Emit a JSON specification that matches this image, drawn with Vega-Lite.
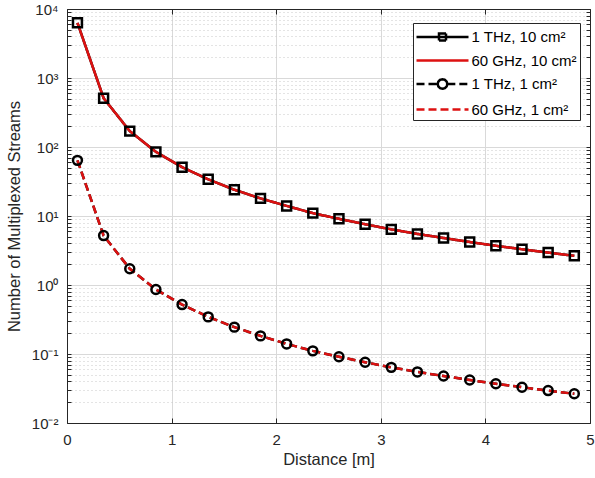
{
  "$schema": "https://vega.github.io/schema/vega-lite/v6.json",
  "autosize": {"type": "none"},
  "width": 523,
  "height": 414,
  "padding": {"left": 67, "top": 9, "right": 5, "bottom": 55},
  "background": "white",
  "config": {
    "view": {"stroke": null},
    "axis": {
      "labelFont": "Liberation Sans",
      "titleFont": "Liberation Sans",
      "labelColor": "#262626",
      "titleColor": "#262626",
      "domainColor": "#262626",
      "tickColor": "#262626",
      "gridColor": "#d9d9d9",
      "labelFontSize": 15,
      "titleFontSize": 16.5,
      "titleFontWeight": "normal",
      "labelOverlap": false,
      "labelFlush": false
    }
  },
  "data": {
    "values": [
      {"distance": 0.1, "series": "1 THz, 10 cm²", "streams": 6300},
      {"distance": 0.35, "series": "1 THz, 10 cm²", "streams": 510},
      {"distance": 0.6, "series": "1 THz, 10 cm²", "streams": 170},
      {"distance": 0.85, "series": "1 THz, 10 cm²", "streams": 85},
      {"distance": 1.1, "series": "1 THz, 10 cm²", "streams": 51},
      {"distance": 1.35, "series": "1 THz, 10 cm²", "streams": 34},
      {"distance": 1.6, "series": "1 THz, 10 cm²", "streams": 24},
      {"distance": 1.85, "series": "1 THz, 10 cm²", "streams": 18},
      {"distance": 2.1, "series": "1 THz, 10 cm²", "streams": 14},
      {"distance": 2.35, "series": "1 THz, 10 cm²", "streams": 11},
      {"distance": 2.6, "series": "1 THz, 10 cm²", "streams": 9.1},
      {"distance": 2.85, "series": "1 THz, 10 cm²", "streams": 7.6},
      {"distance": 3.1, "series": "1 THz, 10 cm²", "streams": 6.4},
      {"distance": 3.35, "series": "1 THz, 10 cm²", "streams": 5.5},
      {"distance": 3.6, "series": "1 THz, 10 cm²", "streams": 4.8},
      {"distance": 3.85, "series": "1 THz, 10 cm²", "streams": 4.2},
      {"distance": 4.1, "series": "1 THz, 10 cm²", "streams": 3.7},
      {"distance": 4.35, "series": "1 THz, 10 cm²", "streams": 3.3},
      {"distance": 4.6, "series": "1 THz, 10 cm²", "streams": 2.95},
      {"distance": 4.85, "series": "1 THz, 10 cm²", "streams": 2.65},
      {"distance": 0.1, "series": "60 GHz, 10 cm²", "streams": 6300},
      {"distance": 0.35, "series": "60 GHz, 10 cm²", "streams": 510},
      {"distance": 0.6, "series": "60 GHz, 10 cm²", "streams": 170},
      {"distance": 0.85, "series": "60 GHz, 10 cm²", "streams": 85},
      {"distance": 1.1, "series": "60 GHz, 10 cm²", "streams": 51},
      {"distance": 1.35, "series": "60 GHz, 10 cm²", "streams": 34},
      {"distance": 1.6, "series": "60 GHz, 10 cm²", "streams": 24},
      {"distance": 1.85, "series": "60 GHz, 10 cm²", "streams": 18},
      {"distance": 2.1, "series": "60 GHz, 10 cm²", "streams": 14},
      {"distance": 2.35, "series": "60 GHz, 10 cm²", "streams": 11},
      {"distance": 2.6, "series": "60 GHz, 10 cm²", "streams": 9.1},
      {"distance": 2.85, "series": "60 GHz, 10 cm²", "streams": 7.6},
      {"distance": 3.1, "series": "60 GHz, 10 cm²", "streams": 6.4},
      {"distance": 3.35, "series": "60 GHz, 10 cm²", "streams": 5.5},
      {"distance": 3.6, "series": "60 GHz, 10 cm²", "streams": 4.8},
      {"distance": 3.85, "series": "60 GHz, 10 cm²", "streams": 4.2},
      {"distance": 4.1, "series": "60 GHz, 10 cm²", "streams": 3.7},
      {"distance": 4.35, "series": "60 GHz, 10 cm²", "streams": 3.3},
      {"distance": 4.6, "series": "60 GHz, 10 cm²", "streams": 2.95},
      {"distance": 4.85, "series": "60 GHz, 10 cm²", "streams": 2.65},
      {"distance": 0.1, "series": "1 THz, 1 cm²", "streams": 64},
      {"distance": 0.35, "series": "1 THz, 1 cm²", "streams": 5.2},
      {"distance": 0.6, "series": "1 THz, 1 cm²", "streams": 1.72},
      {"distance": 0.85, "series": "1 THz, 1 cm²", "streams": 0.86},
      {"distance": 1.1, "series": "1 THz, 1 cm²", "streams": 0.52},
      {"distance": 1.35, "series": "1 THz, 1 cm²", "streams": 0.345},
      {"distance": 1.6, "series": "1 THz, 1 cm²", "streams": 0.245},
      {"distance": 1.85, "series": "1 THz, 1 cm²", "streams": 0.183},
      {"distance": 2.1, "series": "1 THz, 1 cm²", "streams": 0.14},
      {"distance": 2.35, "series": "1 THz, 1 cm²", "streams": 0.111},
      {"distance": 2.6, "series": "1 THz, 1 cm²", "streams": 0.091},
      {"distance": 2.85, "series": "1 THz, 1 cm²", "streams": 0.076},
      {"distance": 3.1, "series": "1 THz, 1 cm²", "streams": 0.064},
      {"distance": 3.35, "series": "1 THz, 1 cm²", "streams": 0.055},
      {"distance": 3.6, "series": "1 THz, 1 cm²", "streams": 0.048},
      {"distance": 3.85, "series": "1 THz, 1 cm²", "streams": 0.042},
      {"distance": 4.1, "series": "1 THz, 1 cm²", "streams": 0.037},
      {"distance": 4.35, "series": "1 THz, 1 cm²", "streams": 0.033},
      {"distance": 4.6, "series": "1 THz, 1 cm²", "streams": 0.0295},
      {"distance": 4.85, "series": "1 THz, 1 cm²", "streams": 0.0265},
      {"distance": 0.1, "series": "60 GHz, 1 cm²", "streams": 64},
      {"distance": 0.35, "series": "60 GHz, 1 cm²", "streams": 5.2},
      {"distance": 0.6, "series": "60 GHz, 1 cm²", "streams": 1.72},
      {"distance": 0.85, "series": "60 GHz, 1 cm²", "streams": 0.86},
      {"distance": 1.1, "series": "60 GHz, 1 cm²", "streams": 0.52},
      {"distance": 1.35, "series": "60 GHz, 1 cm²", "streams": 0.345},
      {"distance": 1.6, "series": "60 GHz, 1 cm²", "streams": 0.245},
      {"distance": 1.85, "series": "60 GHz, 1 cm²", "streams": 0.183},
      {"distance": 2.1, "series": "60 GHz, 1 cm²", "streams": 0.14},
      {"distance": 2.35, "series": "60 GHz, 1 cm²", "streams": 0.111},
      {"distance": 2.6, "series": "60 GHz, 1 cm²", "streams": 0.091},
      {"distance": 2.85, "series": "60 GHz, 1 cm²", "streams": 0.076},
      {"distance": 3.1, "series": "60 GHz, 1 cm²", "streams": 0.064},
      {"distance": 3.35, "series": "60 GHz, 1 cm²", "streams": 0.055},
      {"distance": 3.6, "series": "60 GHz, 1 cm²", "streams": 0.048},
      {"distance": 3.85, "series": "60 GHz, 1 cm²", "streams": 0.042},
      {"distance": 4.1, "series": "60 GHz, 1 cm²", "streams": 0.037},
      {"distance": 4.35, "series": "60 GHz, 1 cm²", "streams": 0.033},
      {"distance": 4.6, "series": "60 GHz, 1 cm²", "streams": 0.0295},
      {"distance": 4.85, "series": "60 GHz, 1 cm²", "streams": 0.0265}
    ]
  },
  "resolve": {"axis": {"x": "independent", "y": "independent"}},
  "layer": [
    {
      "mark": {"type": "line", "strokeWidth": 2.5, "clip": true},
      "encoding": {
        "x": {
          "field": "distance", "type": "quantitative",
          "scale": {"domain": [0, 5], "nice": false, "zero": false},
          "axis": {
            "orient": "bottom", "values": [0, 1, 2, 3, 4, 5], "title": "Distance [m]",
            "grid": true, "tickSize": -5, "labelPadding": 14, "titlePadding": 4,
            "format": "d"
          }
        },
        "y": {
          "field": "streams", "type": "quantitative",
          "scale": {"type": "log", "domain": [0.01, 10000], "nice": false},
          "axis": {
            "orient": "left",
            "title": "Number of Multiplexed Streams",
            "values": [0.01,0.02,0.03,0.04,0.05,0.06,0.07,0.08,0.09,0.1,0.2,0.3,0.4,0.5,0.6,0.7,0.8,0.9,1,2,3,4,5,6,7,8,9,10,20,30,40,50,60,70,80,90,100,200,300,400,500,600,700,800,900,1000,2000,3000,4000,5000,6000,7000,8000,9000,10000],
            "labelExpr": "abs(log(datum.value)/LN10 - round(log(datum.value)/LN10)) < 0.000001 ? '10' + replace(replace(replace(replace(replace(replace(replace('' + round(log(datum.value)/LN10), '-', '⁻'), '0', '⁰'), '1', '¹'), '2', '²'), '3', '³'), '4', '⁴'), '5', '⁵') : ''",
            "grid": true,
            "gridDash": {"condition": {"test": "abs(log(datum.value)/LN10 - round(log(datum.value)/LN10)) < 0.000001", "value": []}, "value": [1, 3]},
            "gridColor": {"condition": {"test": "abs(log(datum.value)/LN10 - round(log(datum.value)/LN10)) < 0.000001", "value": "#d9d9d9"}, "value": "#c8c8c8"},
            "tickSize": -4,
            "labelPadding": 13,
            "titlePadding": 9
          }
        },
        "color": {
          "field": "series", "type": "nominal",
          "scale": {"domain": ["1 THz, 10 cm²", "60 GHz, 10 cm²", "1 THz, 1 cm²", "60 GHz, 1 cm²"], "range": ["#000000", "#dd1111", "#000000", "#dd1111"]},
          "legend": {
            "title": null,
            "orient": "none",
            "legendX": 346,
            "legendY": 14,
            "symbolType": "stroke",
            "symbolSize": 400,
            "symbolStrokeWidth": 2.5,
            "labelFont": "Liberation Sans",
            "labelFontSize": 15,
            "labelColor": "#000000",
            "labelOffset": 33,
            "strokeColor": "#262626",
            "fillColor": "white",
            "padding": 2.5,
            "rowPadding": 3.5,
            "encode": {
              "symbols": {
                "update": {
                  "shape": {"signal": "datum.value === '1 THz, 10 cm²' ? 'M-1.05,0L4.15,0M1.2,-0.35L1.9,-0.35L1.9,0.35L1.2,0.35Z' : datum.value === '1 THz, 1 cm²' ? 'M-1.05,0L1.067,0M2.033,0L4.15,0M2.033,0L1.968,0.242L1.792,0.418L1.55,0.483L1.308,0.418L1.132,0.242L1.067,0L1.132,-0.242L1.308,-0.418L1.55,-0.483L1.792,-0.418L1.968,-0.242L2.033,0L1.968,0.242L1.792,0.418L1.55,0.483L1.308,0.418L1.132,0.242L1.067,0L1.132,-0.242L1.308,-0.418L1.55,-0.483L1.792,-0.418L1.968,-0.242L2.033,0' : 'M-1.05,0L4.15,0'"}
                }
              }
            }
          }
        },
        "strokeDash": {
          "field": "series", "type": "nominal",
          "scale": {"domain": ["1 THz, 10 cm²", "60 GHz, 10 cm²", "1 THz, 1 cm²", "60 GHz, 1 cm²"], "range": [[1, 0], [1, 0], [8, 4], [8, 4]]},
          "legend": null
        }
      }
    },
    {
      "transform": [{"filter": "indexof(datum.series, '1 THz') === 0"}],
      "mark": {"type": "point", "filled": false, "stroke": "#000000", "strokeWidth": 2.5, "size": 80, "opacity": 1},
      "encoding": {
        "x": {
          "field": "distance", "type": "quantitative",
          "axis": {"orient": "top", "values": [0, 1, 2, 3, 4, 5], "labels": false, "grid": false, "tickSize": -5, "title": null}
        },
        "y": {
          "field": "streams", "type": "quantitative",
          "axis": {
            "orient": "right", "labels": false, "grid": false, "title": null, "tickSize": -4,
            "values": [0.01,0.02,0.03,0.04,0.05,0.06,0.07,0.08,0.09,0.1,0.2,0.3,0.4,0.5,0.6,0.7,0.8,0.9,1,2,3,4,5,6,7,8,9,10,20,30,40,50,60,70,80,90,100,200,300,400,500,600,700,800,900,1000,2000,3000,4000,5000,6000,7000,8000,9000,10000]
          }
        },
        "shape": {
          "field": "series", "type": "nominal",
          "scale": {"domain": ["1 THz, 10 cm²", "1 THz, 1 cm²"], "range": ["square", "circle"]},
          "legend": null
        }
      }
    }
  ]
}
